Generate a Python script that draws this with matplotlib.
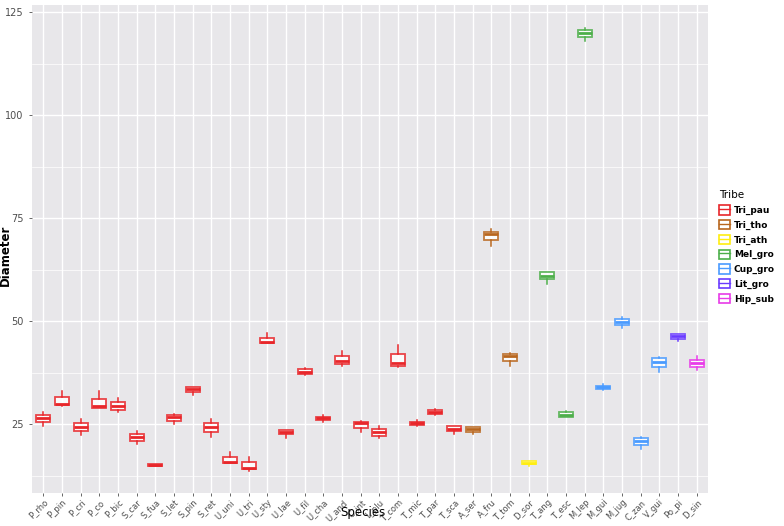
import matplotlib
matplotlib.use("Agg")
import matplotlib.pyplot as plt
from matplotlib.patches import Patch
from matplotlib.lines import Line2D

# species on the x axis, in plot order
species = ["P_rho", "P_pin", "P_cri", "P_co", "P_bic", "S_car", "S_fua", "S_let", "S_pin", "S_ret",
           "U_uni", "U_tri", "U_sty", "U_lae", "U_fil", "U_cha", "U_and", "C_int", "L_plu", "T_com",
           "T_mic", "T_par", "T_sca", "A_ser", "A_fru", "T_tom", "D_sor", "T_ang", "T_esc", "M_lep",
           "M_gui", "M_jug", "C_zan", "V_gui", "Po_pi", "D_sin"]
tribe = ["Tri_pau"] * 23 + ["Tri_tho"] * 3 + ["Tri_ath"] + ["Mel_gro"] * 3 + ["Cup_gro"] * 4 + ["Lit_gro", "Hip_sub"]

# five-number summaries
whis_lo = [24.6, 29.4, 22.5, 28.9, 28.0, 20.3, 14.8, 25.0, 32.1, 21.9,
           15.6, 13.8, 44.7, 21.8, 37.0, 25.7, 39.1, 23.1, 21.7, 38.9,
           24.6, 27.3, 22.7, 22.7, 68.4, 39.3, 15.0, 59.0, 26.9, 118.1,
           33.4, 48.4, 19.0, 37.7, 45.3, 38.3]
q1 = [25.6, 29.6, 23.5, 29.0, 28.4, 21.1, 14.9, 25.9, 32.9, 23.1,
      15.6, 14.2, 44.7, 22.6, 37.3, 26.1, 39.6, 24.1, 22.3, 39.3,
      24.9, 27.6, 23.5, 23.2, 69.8, 40.3, 15.3, 60.2, 26.9, 119.0,
      33.5, 49.2, 19.9, 39.0, 45.8, 38.9]
median = [26.5, 29.9, 24.4, 29.5, 29.5, 21.9, 15.1, 26.9, 33.5, 24.3,
          15.8, 14.5, 45.0, 23.2, 37.8, 26.6, 40.3, 25.3, 23.2, 39.8,
          25.4, 28.1, 24.0, 24.0, 71.3, 41.5, 15.7, 61.1, 27.4, 119.9,
          34.0, 49.9, 20.9, 40.1, 46.4, 39.9]
q3 = [27.3, 31.6, 25.4, 31.1, 30.5, 22.8, 15.3, 27.3, 34.0, 25.4,
      17.0, 15.9, 46.0, 23.7, 38.4, 26.9, 41.6, 25.7, 24.0, 42.0,
      25.7, 28.4, 24.6, 24.3, 71.8, 42.1, 16.1, 61.9, 27.9, 120.8,
      34.4, 50.5, 21.6, 41.0, 46.9, 40.7]
whis_hi = [28.1, 33.0, 26.4, 33.0, 31.4, 23.5, 15.3, 27.6, 34.2, 26.4,
           18.4, 17.2, 47.2, 23.7, 38.8, 27.2, 42.9, 25.9, 24.6, 44.2,
           26.0, 28.7, 24.6, 24.3, 72.3, 42.3, 16.1, 61.9, 28.3, 121.3,
           34.9, 51.0, 22.0, 41.4, 46.9, 41.5]

tribes = ["Tri_pau", "Tri_tho", "Tri_ath", "Mel_gro", "Cup_gro", "Lit_gro", "Hip_sub"]
tribe_colors = ["#E8262A", "#B8661E", "#FFEE11", "#4DAF4A", "#4A9BFF", "#6A3BFF", "#E83BE8"]
color_of = dict(zip(tribes, tribe_colors))

fig = plt.figure(figsize=(7.84, 5.26), dpi=100)
ax = fig.add_axes([0.041, 0.063, 0.862, 0.927])
ax.set_facecolor("#E8E7EA")

stats = []
for i, name in enumerate(species):
    stats.append(dict(label=name, whislo=whis_lo[i], q1=q1[i], med=median[i], q3=q3[i], whishi=whis_hi[i], fliers=[]))

positions = list(range(len(species)))
for i, st in enumerate(stats):
    c = color_of[tribe[i]]
    ax.bxp([st], positions=[i], widths=0.75, showcaps=False, patch_artist=True,
           boxprops=dict(facecolor="white", edgecolor=c, linewidth=1.3, alpha=0.85),
           medianprops=dict(color=c, linewidth=2.0, solid_capstyle="butt"),
           whiskerprops=dict(color=c, linewidth=1.1),
           manage_ticks=False, zorder=3)

ax.set_xlim(-0.6, len(species) - 0.4)
ax.set_ylim(8.4, 126.7)
ax.set_xticks(positions)
ax.set_xticklabels(species, rotation=45, ha="right", rotation_mode="anchor", fontsize=6, color="#4D4D4D")
ax.set_yticks([25, 50, 75, 100, 125])
ax.set_yticks([12.5, 37.5, 62.5, 87.5, 112.5], minor=True)
ax.tick_params(axis="y", labelsize=7, colors="#4D4D4D", length=2.5, width=0.6)
ax.tick_params(axis="y", which="minor", length=0)
ax.tick_params(axis="x", length=2.5, width=0.6, colors="#4D4D4D", pad=1)
ax.grid(which="major", color="white", linewidth=1.0, zorder=0)
ax.grid(which="minor", axis="y", color="white", linewidth=0.5, zorder=0)
ax.set_axisbelow(True)
for s in ax.spines.values():
    s.set_visible(False)

ax.set_ylabel("Diameter", fontsize=8.5, fontweight="bold", va="center")
ax.yaxis.set_label_coords(-0.039, 0.488)
ax.set_xlabel("Species", fontsize=8.5, va="center")
ax.xaxis.set_label_coords(0.49, -0.041)

handles = [(Patch(facecolor="white", edgecolor=c, linewidth=1.2),
            Line2D([], [], color=c, linewidth=1.0)) for c in tribe_colors]
leg = fig.legend(handles, tribes, title="Tribe", loc="upper left", bbox_to_anchor=(0.913, 0.645),
                 frameon=False, fontsize=6.5, title_fontsize=7.5, handlelength=1.2, handleheight=1.2,
                 handletextpad=0.4, labelspacing=0.55, borderaxespad=0)
leg._legend_box.align = "left"
for t in leg.get_texts():
    t.set_fontweight("bold")

fig.savefig("out.png", dpi=100)
